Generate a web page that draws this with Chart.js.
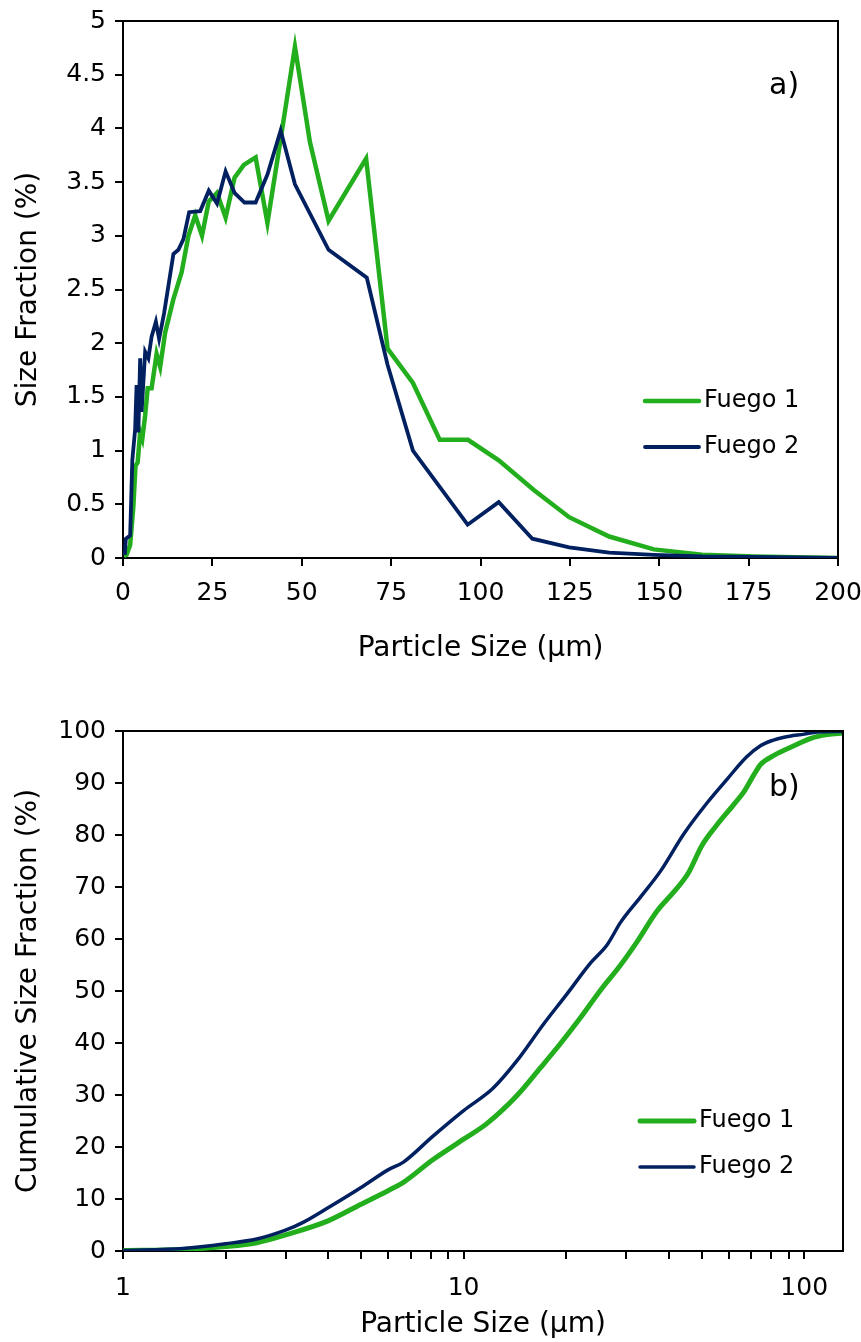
<!DOCTYPE html>
<html>
<head>
<meta charset="utf-8">
<script src="https://cdn.jsdelivr.net/npm/chart.js@4/dist/chart.umd.min.js"></script>
<style>
  body { margin: 0; background: #fff; }
  .box { position: absolute; left: 0; width: 861px; height: 671px; }
</style>
</head>
<body>
<div class="box" style="top:0"><canvas id="chartA" width="861" height="671"></canvas></div>
<div class="box" style="top:671px"><canvas id="chartB" width="861" height="671"></canvas></div>
<script>
// a) size fraction per particle size (µm)
var sizeA1 = [0.3, 1.0, 2.0, 2.9, 3.5, 4.1, 4.8, 5.4, 6.2, 6.9, 8.0, 9.4, 10.4, 11.8, 14.1, 16.4, 18.3, 20.2, 22.1, 24.0, 26.3, 28.7, 31.2, 33.8, 37.1, 40.4, 44.1, 48.1, 52.3, 57.5, 68.0, 74.0, 81.1, 88.6, 96.5, 105.1, 115.0, 124.8, 136.0, 148.5, 162.0, 176.5, 200];
var fracA1 = [0.02, 0.03, 0.12, 0.48, 0.86, 0.89, 1.17, 1.11, 1.33, 1.58, 1.58, 1.90, 1.78, 2.10, 2.41, 2.66, 3.0, 3.19, 3.0, 3.32, 3.40, 3.17, 3.54, 3.66, 3.73, 3.12, 3.90, 4.76, 3.87, 3.14, 3.72, 1.95, 1.63, 1.10, 1.10, 0.91, 0.63, 0.38, 0.20, 0.08, 0.03, 0.015, 0.0];
var sizeA2 = [0.5, 0.8, 2.0, 2.3, 2.6, 3.4, 3.8, 4.3, 4.8, 5.2, 6.2, 7.1, 8.0, 9.2, 10.1, 11.5, 14.1, 15.5, 16.9, 18.5, 21.6, 24.0, 26.3, 28.7, 31.2, 34.0, 37.1, 40.4, 44.1, 48.1, 57.5, 68.2, 74.0, 81.1, 96.4, 105.1, 114.5, 124.8, 136.0, 148.5, 162.0, 176.5, 200];
var fracA2 = [0.03, 0.18, 0.21, 0.55, 0.91, 1.2, 1.61, 1.17, 1.86, 1.36, 1.92, 1.86, 2.06, 2.2, 2.04, 2.28, 2.83, 2.87, 2.97, 3.22, 3.23, 3.42, 3.30, 3.60, 3.40, 3.31, 3.31, 3.57, 3.98, 3.48, 2.87, 2.61, 1.80, 1.00, 0.31, 0.52, 0.18, 0.10, 0.05, 0.03, 0.015, 0.01, 0.0];

// b) cumulative size fraction
var sizeB1 = [1, 1.5, 2, 2.47, 3, 4, 5, 6, 6.66, 8.1, 10, 11.7, 14.35, 16.8, 19.2, 22, 25.2, 28.9, 32.4, 36.9, 41.6, 45.7, 50.1, 54.9, 62, 66.5, 71.2, 74.6, 82, 93.6, 104.7, 117, 130];
var cumB1 = [0.1, 0.3, 0.85, 1.6, 3.1, 5.8, 9.0, 11.6, 13.2, 17.5, 21.5, 24.5, 29.9, 35.2, 39.8, 44.8, 50.1, 55, 59.6, 65.3, 69.2, 72.7, 78, 81.6, 85.8, 88.3, 91.6, 93.6, 95.4, 97.2, 98.6, 99.3, 99.6];
var sizeB2 = [1, 1.5, 2, 2.47, 3, 3.38, 4, 5, 6, 6.66, 8.1, 10, 12.2, 14.35, 17.2, 20.1, 23.6, 26.4, 28.9, 33.1, 37.9, 44.3, 51.9, 59.5, 67.7, 74.6, 80.8, 87.3, 100, 109.4, 130];
var cumB2 = [0.1, 0.5, 1.4, 2.3, 4.0, 5.5, 8.3, 12.2, 15.6, 17.1, 22, 27, 31.3, 36.6, 43.7, 49.4, 55.4, 58.9, 63.2, 68.1, 73.1, 80.2, 86.2, 90.8, 95.0, 97.2, 98.2, 98.8, 99.4, 99.8, 99.9];

var seriesNames = ['Fuego 1', 'Fuego 2'];
var logTicks = [1, 2, 3, 4, 5, 6, 7, 8, 9, 10, 20, 30, 40, 50, 60, 70, 80, 90, 100];
var logLabels = [1, 10, 100];

var green = '#23AE1D', navy = '#002060';
var FONT = "'DejaVu Sans', Verdana, sans-serif";
Chart.defaults.font.family = FONT;
Chart.defaults.color = '#000';

function pts(xs, ys) {
  return xs.map(function (x, i) { return { x: x, y: ys[i] }; });
}

// frame on top/right, panel tag and hand placed legend
var extras = {
  id: 'extras',
  afterDraw: function (chart) {
    var o = chart.options.plugins.extras, a = chart.chartArea, ctx = chart.ctx;
    ctx.save();
    ctx.strokeStyle = '#000';
    ctx.lineWidth = 2;
    ctx.beginPath();
    ctx.moveTo(a.left, a.top);
    ctx.lineTo(a.right, a.top);
    ctx.lineTo(a.right, a.bottom);
    ctx.stroke();
    ctx.fillStyle = '#000';
    ctx.textBaseline = 'middle';
    ctx.font = '30px ' + FONT;
    ctx.fillText(o.tag, o.tagX, o.tagY);
    ctx.font = '24px ' + FONT;
    chart.data.datasets.forEach(function (ds, i) {
      var y = o.legY + i * o.legGap;
      ctx.strokeStyle = ds.borderColor;
      ctx.lineWidth = ds.borderWidth;
      ctx.lineCap = 'round';
      ctx.beginPath();
      ctx.moveTo(o.legX, y);
      ctx.lineTo(o.legX + 54, y);
      ctx.stroke();
      ctx.fillText(ds.label, o.legX + 59, y);
    });
    ctx.restore();
  }
};

function axisStyle() {
  return {
    grid: { drawOnChartArea: false, drawTicks: true, tickLength: 8, color: '#000', lineWidth: 2 },
    border: { color: '#000', width: 2 }
  };
}

function fixX(h) {
  return function (s) { s.height = h; s.paddingLeft = 0; s.paddingRight = 0; };
}
function fixY(w) {
  return function (s) { s.width = w; s.paddingTop = 0; s.paddingBottom = 0; };
}

var xA = axisStyle();
xA.type = 'linear';
xA.min = 0; xA.max = 200;
xA.ticks = { stepSize: 25, padding: 12, font: { size: 25 }, maxRotation: 0 };
xA.title = { display: true, text: 'Particle Size (µm)', font: { size: 28 }, padding: { top: 0, bottom: 5 } };
xA.afterFit = fixX(113);

var yA = axisStyle();
yA.min = 0; yA.max = 5;
yA.ticks = { stepSize: 0.5, padding: 9, font: { size: 25 }, callback: function (v) { return String(v); } };
yA.title = { display: true, text: 'Size Fraction (%)', font: { size: 28 }, padding: { top: 12, bottom: 0 } };
yA.afterFit = fixY(123);

new Chart(document.getElementById('chartA'), {
  type: 'scatter',
  data: {
    datasets: [
      { label: seriesNames[0], data: pts(sizeA1, fracA1), showLine: true, borderColor: green, borderWidth: 4.5, pointRadius: 0, tension: 0, order: 1 },
      { label: seriesNames[1], data: pts(sizeA2, fracA2), showLine: true, borderColor: navy, borderWidth: 3.8, pointRadius: 0, tension: 0, order: 0 }
    ]
  },
  options: {
    responsive: false,
    animation: false,
    layout: { padding: { left: 0, right: 23, top: 21, bottom: 0 } },
    scales: { x: xA, y: yA },
    plugins: {
      legend: { display: false },
      tooltip: { enabled: false },
      extras: { tag: 'a)', tagX: 769, tagY: 86, legX: 645, legY: 401, legGap: 46 }
    }
  },
  plugins: [extras]
});

var xB = axisStyle();
xB.type = 'logarithmic';
xB.min = 1; xB.max = 130;
xB.afterBuildTicks = function (s) { s.ticks = logTicks.map(function (v) { return { value: v }; }); };
xB.ticks = { autoSkip: false, padding: 14, font: { size: 25 }, maxRotation: 0,
  callback: function (v) { return logLabels.indexOf(v) >= 0 ? String(v) : ''; } };
xB.title = { display: true, text: 'Particle Size (µm)', font: { size: 28 }, padding: { top: 0, bottom: 0 } };
xB.afterFit = fixX(91);

var yB = axisStyle();
yB.min = 0; yB.max = 100;
yB.ticks = { stepSize: 10, padding: 9, font: { size: 25 } };
yB.title = { display: true, text: 'Cumulative Size Fraction (%)', font: { size: 28 }, padding: { top: 12, bottom: 0 } };
yB.afterFit = fixY(123);

new Chart(document.getElementById('chartB'), {
  type: 'scatter',
  data: {
    datasets: [
      { label: seriesNames[0], data: pts(sizeB1, cumB1), showLine: true, borderColor: green, borderWidth: 5, pointRadius: 0, cubicInterpolationMode: 'monotone', order: 1 },
      { label: seriesNames[1], data: pts(sizeB2, cumB2), showLine: true, borderColor: navy, borderWidth: 3.5, pointRadius: 0, cubicInterpolationMode: 'monotone', order: 0 }
    ]
  },
  options: {
    responsive: false,
    animation: false,
    layout: { padding: { left: 0, right: 18, top: 60, bottom: 0 } },
    scales: { x: xB, y: yB },
    plugins: {
      legend: { display: false },
      tooltip: { enabled: false },
      extras: { tag: 'b)', tagX: 769, tagY: 117, legX: 640, legY: 450, legGap: 46 }
    }
  },
  plugins: [extras]
});
</script>
</body>
</html>
